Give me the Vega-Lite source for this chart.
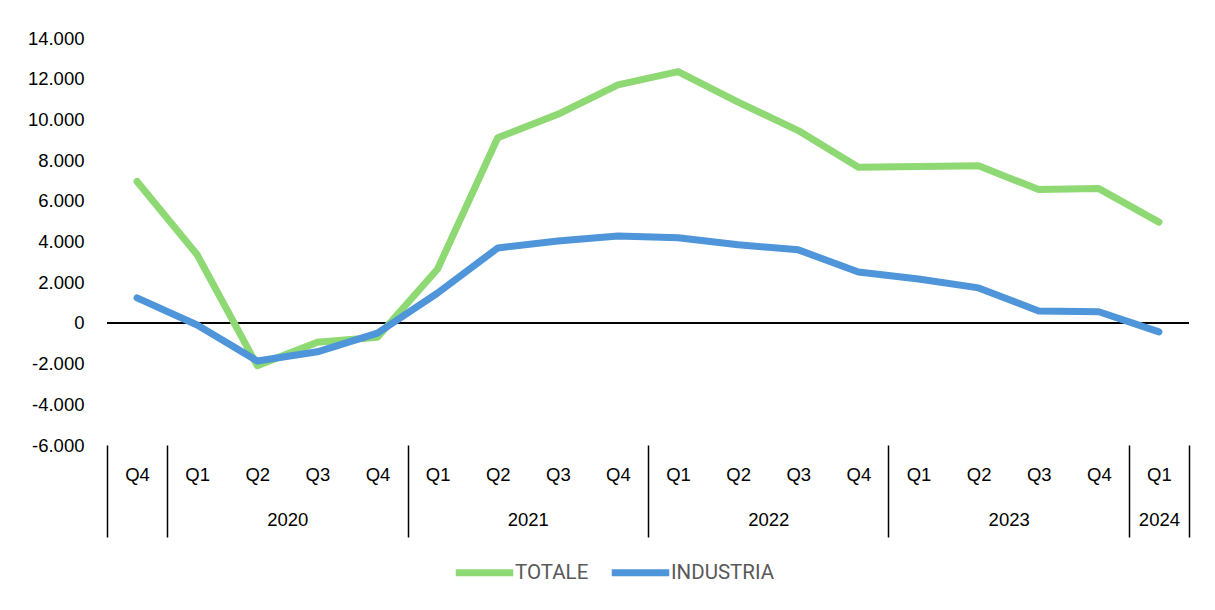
{
  "$schema": "https://vega.github.io/schema/vega-lite/v6.json",
  "width": 1082,
  "height": 407,
  "autosize": {"type": "none"},
  "padding": {"left": 107, "top": 38, "right": 26, "bottom": 165},
  "background": "white",
  "config": {
    "view": {"stroke": null},
    "axis": {"labelFont": "Liberation Sans", "labelFontSize": 18.5, "labelColor": "#000000", "grid": false, "title": null}
  },
  "datasets": {
    "series": [
      {"pos": 0.5, "period": "2019 Q4", "serie": "TOTALE", "value": 6950},
      {"pos": 1.5, "period": "2020 Q1", "serie": "TOTALE", "value": 3350},
      {"pos": 2.5, "period": "2020 Q2", "serie": "TOTALE", "value": -2100},
      {"pos": 3.5, "period": "2020 Q3", "serie": "TOTALE", "value": -950},
      {"pos": 4.5, "period": "2020 Q4", "serie": "TOTALE", "value": -700},
      {"pos": 5.5, "period": "2021 Q1", "serie": "TOTALE", "value": 2650},
      {"pos": 6.5, "period": "2021 Q2", "serie": "TOTALE", "value": 9100},
      {"pos": 7.5, "period": "2021 Q3", "serie": "TOTALE", "value": 10250},
      {"pos": 8.5, "period": "2021 Q4", "serie": "TOTALE", "value": 11700},
      {"pos": 9.5, "period": "2022 Q1", "serie": "TOTALE", "value": 12350},
      {"pos": 10.5, "period": "2022 Q2", "serie": "TOTALE", "value": 10850},
      {"pos": 11.5, "period": "2022 Q3", "serie": "TOTALE", "value": 9450},
      {"pos": 12.5, "period": "2022 Q4", "serie": "TOTALE", "value": 7650},
      {"pos": 13.5, "period": "2023 Q1", "serie": "TOTALE", "value": 7680},
      {"pos": 14.5, "period": "2023 Q2", "serie": "TOTALE", "value": 7720},
      {"pos": 15.5, "period": "2023 Q3", "serie": "TOTALE", "value": 6550},
      {"pos": 16.5, "period": "2023 Q4", "serie": "TOTALE", "value": 6600},
      {"pos": 17.5, "period": "2024 Q1", "serie": "TOTALE", "value": 4950},
      {"pos": 0.5, "period": "2019 Q4", "serie": "INDUSTRIA", "value": 1230},
      {"pos": 1.5, "period": "2020 Q1", "serie": "INDUSTRIA", "value": -100},
      {"pos": 2.5, "period": "2020 Q2", "serie": "INDUSTRIA", "value": -1870},
      {"pos": 3.5, "period": "2020 Q3", "serie": "INDUSTRIA", "value": -1420},
      {"pos": 4.5, "period": "2020 Q4", "serie": "INDUSTRIA", "value": -500},
      {"pos": 5.5, "period": "2021 Q1", "serie": "INDUSTRIA", "value": 1470},
      {"pos": 6.5, "period": "2021 Q2", "serie": "INDUSTRIA", "value": 3680},
      {"pos": 7.5, "period": "2021 Q3", "serie": "INDUSTRIA", "value": 4020},
      {"pos": 8.5, "period": "2021 Q4", "serie": "INDUSTRIA", "value": 4270},
      {"pos": 9.5, "period": "2022 Q1", "serie": "INDUSTRIA", "value": 4180},
      {"pos": 10.5, "period": "2022 Q2", "serie": "INDUSTRIA", "value": 3840},
      {"pos": 11.5, "period": "2022 Q3", "serie": "INDUSTRIA", "value": 3590},
      {"pos": 12.5, "period": "2022 Q4", "serie": "INDUSTRIA", "value": 2500},
      {"pos": 13.5, "period": "2023 Q1", "serie": "INDUSTRIA", "value": 2160},
      {"pos": 14.5, "period": "2023 Q2", "serie": "INDUSTRIA", "value": 1720},
      {"pos": 15.5, "period": "2023 Q3", "serie": "INDUSTRIA", "value": 590},
      {"pos": 16.5, "period": "2023 Q4", "serie": "INDUSTRIA", "value": 550},
      {"pos": 17.5, "period": "2024 Q1", "serie": "INDUSTRIA", "value": -440}
    ],
    "years": [
      {"pos": 3, "year": "2020"},
      {"pos": 7, "year": "2021"},
      {"pos": 11, "year": "2022"},
      {"pos": 15, "year": "2023"},
      {"pos": 17.5, "year": "2024"}
    ],
    "bounds": [
      {"pos": 0}, {"pos": 1}, {"pos": 5}, {"pos": 9}, {"pos": 13}, {"pos": 17}, {"pos": 18}
    ]
  },
  "resolve": {"scale": {"x": "independent"}},
  "layer": [
    {
      "data": {"name": "series"},
      "layer": [
        {
          "mark": {"type": "rule", "color": "#000000", "strokeWidth": 1.5},
          "encoding": {"y": {"datum": 0, "type": "quantitative"}}
        },
        {
          "mark": {"type": "line", "strokeWidth": 7, "strokeCap": "round", "strokeJoin": "round"},
          "encoding": {
            "x": {
              "field": "pos", "type": "quantitative",
              "scale": {"domain": [0, 18], "nice": false, "zero": false},
              "axis": {
                "orient": "bottom",
                "values": [0.5, 1.5, 2.5, 3.5, 4.5, 5.5, 6.5, 7.5, 8.5, 9.5, 10.5, 11.5, 12.5, 13.5, 14.5, 15.5, 16.5, 17.5],
                "labelExpr": "datum.value < 1 ? 'Q4' : 'Q' + (floor(datum.value - 1) % 4 + 1)",
                "ticks": false, "domain": false, "labelPadding": 20, "labelFlush": false, "labelOverlap": false
              }
            },
            "y": {
              "field": "value", "type": "quantitative",
              "scale": {"domain": [-6000, 14000], "nice": false, "zero": false},
              "axis": {
                "values": [-6000, -4000, -2000, 0, 2000, 4000, 6000, 8000, 10000, 12000, 14000],
                "labelExpr": "(datum.value < 0 ? '-' : '') + replace(format(abs(datum.value), ','), ',', '.')",
                "ticks": false, "domain": false, "labelPadding": 23, "labelFlush": false, "labelOverlap": false
              }
            },
            "color": {
              "field": "serie", "type": "nominal",
              "scale": {"domain": ["TOTALE", "INDUSTRIA"], "range": ["#8ED973", "#4E95D9"]},
              "legend": {
                "title": null, "orient": "none", "legendX": 345, "legendY": 502,
                "direction": "horizontal", "symbolType": "stroke", "symbolSize": 3300,
                "symbolStrokeWidth": 7, "labelFont": "Roboto", "labelFontSize": 20.5,
                "labelColor": "#595959", "labelOffset": -2, "columnPadding": 8
              }
            }
          }
        }
      ]
    },
    {
      "data": {"name": "years"},
      "mark": {"type": "rule", "opacity": 0},
      "encoding": {
        "x": {
          "field": "pos", "type": "quantitative",
          "scale": {"domain": [0, 18], "nice": false, "zero": false},
          "axis": {
            "orient": "bottom",
            "values": [3, 7, 11, 15, 17.5],
            "labelExpr": "datum.value == 3 ? '2020' : datum.value == 7 ? '2021' : datum.value == 11 ? '2022' : datum.value == 15 ? '2023' : '2024'",
            "ticks": false, "domain": false, "labelPadding": 65, "labelFlush": false, "labelOverlap": false
          }
        }
      }
    },
    {
      "data": {"name": "bounds"},
      "mark": {"type": "rule", "opacity": 0},
      "encoding": {
        "x": {
          "field": "pos", "type": "quantitative",
          "scale": {"domain": [0, 18], "nice": false, "zero": false},
          "axis": {
            "orient": "bottom",
            "values": [0, 1, 5, 9, 13, 17, 18],
            "labels": false, "domain": false, "ticks": true,
            "tickSize": 92, "tickColor": "#000000", "tickWidth": 1.5
          }
        }
      }
    }
  ]
}
